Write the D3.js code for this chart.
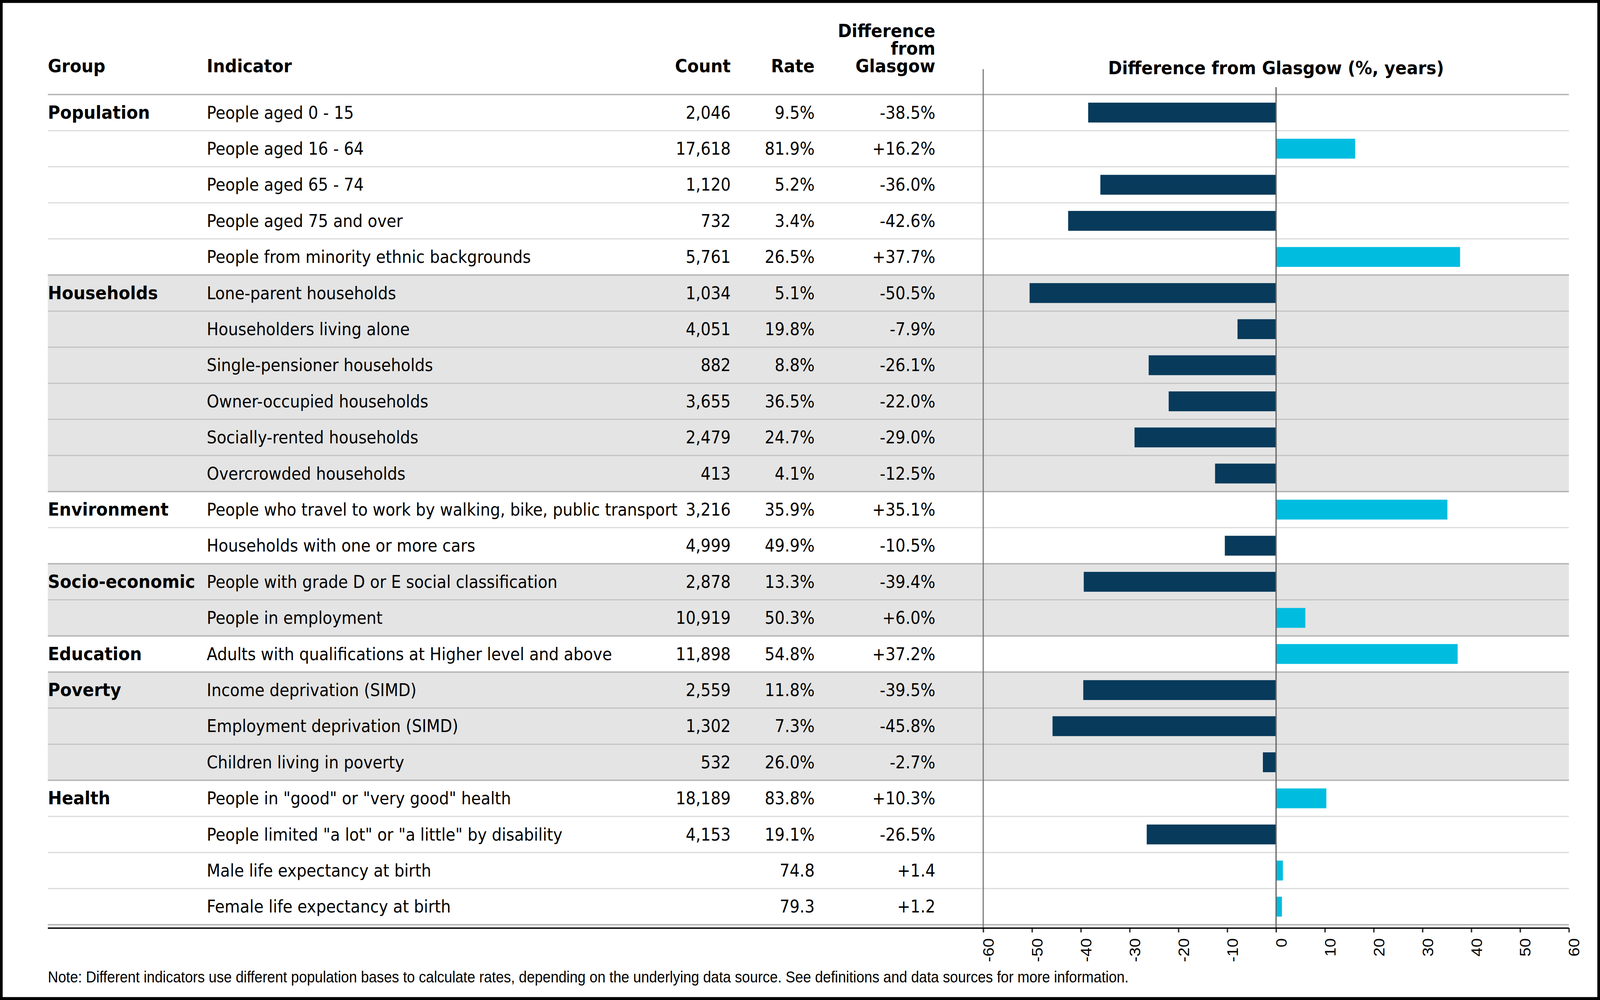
<!DOCTYPE html>
<html>
<head>
<meta charset="utf-8">
<script src="https://cdn.jsdelivr.net/npm/d3@7"></script>
<style>
html, body { margin: 0; padding: 0; background: #fff; overflow: hidden; }
svg { display: block; width: 100vw; height: 100vh; }
text { font-family: "DejaVu Sans", sans-serif; fill: #000; }
.head { font-weight: bold; font-size: 47px; }
.cell { font-size: 44px; }
.tick text { font-family: "Liberation Sans", Arial, sans-serif; font-size: 42px; }
.note { font-family: "Liberation Sans", Arial, sans-serif; font-size: 40px; }
</style>
</head>
<body>
<div id="chart"></div>
<script>
var rowGroups = ["Population", "Population", "Population", "Population", "Population",
    "Households", "Households", "Households", "Households", "Households", "Households",
    "Environment", "Environment",
    "Socio-economic", "Socio-economic",
    "Education",
    "Poverty", "Poverty", "Poverty",
    "Health", "Health", "Health", "Health"];

var indicators = ["People aged 0 - 15", "People aged 16 - 64", "People aged 65 - 74", "People aged 75 and over",
    "People from minority ethnic backgrounds", "Lone-parent households", "Householders living alone",
    "Single-pensioner households", "Owner-occupied households", "Socially-rented households",
    "Overcrowded households", "People who travel to work by walking, bike, public transport",
    "Households with one or more cars", "People with grade D or E social classification",
    "People in employment", "Adults with qualifications at Higher level and above",
    "Income deprivation (SIMD)", "Employment deprivation (SIMD)", "Children living in poverty",
    "People in \"good\" or \"very good\" health", "People limited \"a lot\" or \"a little\" by disability",
    "Male life expectancy at birth", "Female life expectancy at birth"];

var counts = [2046, 17618, 1120, 732, 5761, 1034, 4051, 882, 3655, 2479, 413, 3216, 4999, 2878,
    10919, 11898, 2559, 1302, 532, 18189, 4153, null, null];

var rates = [9.5, 81.9, 5.2, 3.4, 26.5, 5.1, 19.8, 8.8, 36.5, 24.7, 4.1, 35.9, 49.9, 13.3,
    50.3, 54.8, 11.8, 7.3, 26.0, 83.8, 19.1, 74.8, 79.3];

var diffs = [-38.5, 16.2, -36.0, -42.6, 37.7, -50.5, -7.9, -26.1, -22.0, -29.0, -12.5, 35.1,
    -10.5, -39.4, 6.0, 37.2, -39.5, -45.8, -2.7, 10.3, -26.5, 1.4, 1.2];

var units = ["%", "%", "%", "%", "%", "%", "%", "%", "%", "%", "%", "%", "%", "%", "%", "%",
    "%", "%", "%", "%", "%", "", ""];

var xTicks = [-60, -50, -40, -30, -20, -10, 0, 10, 20, 30, 40, 50, 60];

var diffHeader = ["Difference", "from", "Glasgow"];

var noteText = "Note: Different indicators use different population bases to calculate rates, depending on the underlying data source. See definitions and data sources for more information.";

var svgWidth = 4480;
var svgHeight = 2560;

var tableLeft = 134;
var tableRight = 4393;
var tableTop = 242;
var tableBottom = 2367.2;
var axisY = 2376;

var colIndicator = 579;
var colCount = 2046;
var colRate = 2281;
var colDiff = 2619;

var svg = d3.select("#chart")
    .append("svg")
    .attr("viewBox", `0 0 ${svgWidth} ${svgHeight}`)
    .attr("preserveAspectRatio", "none");

var rows = d3.range(indicators.length);

var rowScale = d3.scaleBand()
    .domain(rows)
    .range([tableTop, tableBottom]);

var barScale = d3.scaleBand()
    .domain(rows)
    .range([tableTop, tableBottom])
    .paddingInner(0.45)
    .paddingOuter(0.225);

var xScale = d3.scaleLinear()
    .domain([-60, 60])
    .range([2753, tableRight]);

// group start rows
var groupStarts = rows.filter(i => i === 0 || rowGroups[i] !== rowGroups[i - 1]);
var groupBlocks = groupStarts.map(function(s, k) {
    var end = k + 1 < groupStarts.length ? groupStarts[k + 1] : rows.length;
    return {name: rowGroups[s], start: s, end: end, shaded: k % 2 === 1};
});

svg.append("g")
    .selectAll("rect")
    .data(groupBlocks.filter(g => g.shaded))
    .enter().append("rect")
    .attr("x", tableLeft)
    .attr("width", tableRight - tableLeft)
    .attr("y", g => rowScale(g.start))
    .attr("height", g => rowScale.step() * (g.end - g.start))
    .attr("fill", "#e4e4e4");

// row separators
var lineYs = rows.slice(1).map(function(i) {
    return {y: rowScale(i), major: groupStarts.indexOf(i) >= 0};
});
lineYs.push({y: tableTop, major: true});
lineYs.push({y: tableBottom, major: true});

svg.append("g")
    .selectAll("line")
    .data(lineYs)
    .enter().append("line")
    .attr("x1", tableLeft)
    .attr("x2", tableRight)
    .attr("y1", d => d.y)
    .attr("y2", d => d.y)
    .attr("stroke", d => d.major ? "#b3b3b3" : "rgba(0,0,0,0.14)")
    .attr("stroke-width", d => d.major ? 3.5 : 3);

svg.append("g")
    .selectAll("rect")
    .data(rows)
    .enter().append("rect")
    .attr("x", i => xScale(Math.min(0, diffs[i])))
    .attr("width", i => Math.abs(xScale(diffs[i]) - xScale(0)))
    .attr("y", i => barScale(i))
    .attr("height", barScale.bandwidth())
    .attr("fill", i => diffs[i] < 0 ? "#073a5b" : "#00bde0");

svg.append("line")
    .attr("x1", xScale(-60))
    .attr("x2", xScale(-60))
    .attr("y1", 177)
    .attr("y2", axisY)
    .attr("stroke", "#707070")
    .attr("stroke-width", 3);

svg.append("line")
    .attr("x1", xScale(0))
    .attr("x2", xScale(0))
    .attr("y1", 223)
    .attr("y2", axisY)
    .attr("stroke", "#666")
    .attr("stroke-width", 3.5);

var xAxis = svg.append("g")
    .attr("transform", `translate(0, ${axisY})`)
    .call(d3.axisBottom(xScale).tickValues(xTicks).tickSize(11).tickFormat(d => String(d)));

xAxis.select(".domain").remove();
xAxis.selectAll(".tick line")
    .attr("stroke", "#333")
    .attr("stroke-width", 4);
xAxis.selectAll(".tick text")
    .attr("transform", "rotate(-90)")
    .attr("text-anchor", "end")
    .attr("x", -26)
    .attr("y", 29)
    .attr("dy", null);

svg.append("line")
    .attr("x1", tableLeft)
    .attr("x2", tableRight)
    .attr("y1", axisY)
    .attr("y2", axisY)
    .attr("stroke", "#000")
    .attr("stroke-width", 3.5);

// header
var header = svg.append("g").classed("head", true);
header.append("text").attr("x", tableLeft).attr("y", 185).text("Group");
header.append("text").attr("x", colIndicator).attr("y", 185).text("Indicator");
header.append("text").attr("x", colCount).attr("y", 185).attr("text-anchor", "end").text("Count");
header.append("text").attr("x", colRate).attr("y", 185).attr("text-anchor", "end").text("Rate");
header.append("text")
    .attr("text-anchor", "end")
    .selectAll("tspan")
    .data(diffHeader)
    .enter().append("tspan")
    .attr("x", colDiff)
    .attr("y", (d, k) => 95 + k * 45)
    .text(d => d);
header.append("text").attr("x", xScale(0)).attr("y", 190).attr("text-anchor", "middle")
    .text("Difference from Glasgow (%, years)");

var textY = i => rowScale(i) + rowScale.step() / 2 + 15.5;

svg.append("g")
    .classed("head", true)
    .selectAll("text")
    .data(groupBlocks)
    .enter().append("text")
    .attr("x", tableLeft)
    .attr("y", g => textY(g.start))
    .text(g => g.name);

var cells = svg.append("g").classed("cell", true);

cells.selectAll(".ind")
    .data(rows)
    .enter().append("text")
    .attr("x", colIndicator)
    .attr("y", textY)
    .text(i => indicators[i]);

cells.selectAll(".cnt")
    .data(rows.filter(i => counts[i] !== null))
    .enter().append("text")
    .attr("x", colCount)
    .attr("y", textY)
    .attr("text-anchor", "end")
    .text(i => d3.format(",")(counts[i]));

cells.selectAll(".rate")
    .data(rows)
    .enter().append("text")
    .attr("x", colRate)
    .attr("y", textY)
    .attr("text-anchor", "end")
    .text(i => rates[i].toFixed(1) + units[i]);

cells.selectAll(".diff")
    .data(rows)
    .enter().append("text")
    .attr("x", colDiff)
    .attr("y", textY)
    .attr("text-anchor", "end")
    .text(i => (diffs[i] < 0 ? "-" : "+") + Math.abs(diffs[i]).toFixed(1) + units[i]);

svg.append("text")
    .classed("note", true)
    .attr("x", tableLeft)
    .attr("y", 2515)
    .text(noteText);

svg.append("rect")
    .attr("x", 3.75)
    .attr("y", 3.75)
    .attr("width", svgWidth - 7.5)
    .attr("height", svgHeight - 7.5)
    .attr("fill", "none")
    .attr("stroke", "#000")
    .attr("stroke-width", 7.5);
</script>
</body>
</html>
